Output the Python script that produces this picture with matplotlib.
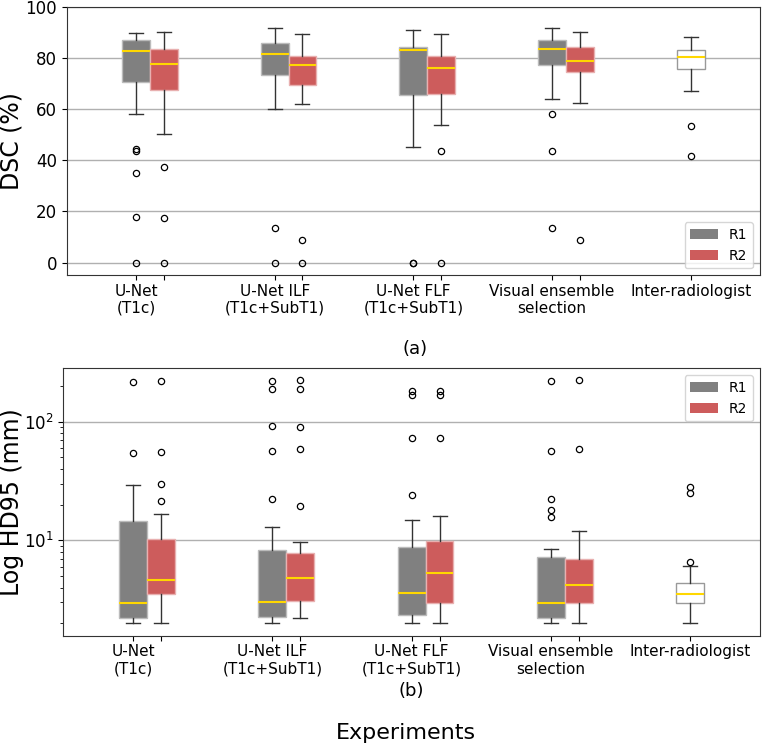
import matplotlib
matplotlib.use("Agg")
import matplotlib.pyplot as plt
from matplotlib.patches import Patch

# group labels (R1 box sits on the tick, R2 box just right of it)
methods = ["U-Net\n(T1c)", "U-Net ILF\n(T1c+SubT1)", "U-Net FLF\n(T1c+SubT1)",
           "Visual ensemble\nselection"]
inter_label = "Inter-radiologist"

# DSC (%) box stats: whislo, q1, med, q3, whishi
dsc_r1 = [[58.2, 70.6, 82.7, 87.2, 90.0],
          [60.2, 73.5, 81.6, 86.0, 91.8],
          [45.4, 65.6, 83.1, 84.5, 90.9],
          [64.1, 77.3, 83.5, 87.2, 91.8]]
dsc_r1_fliers = [[44.3, 43.5, 35.2, 18.0, 0.0],
                 [13.5, 0.0],
                 [0.0, 0.0],
                 [58.2, 43.5, 13.5]]
dsc_r2 = [[50.3, 67.5, 77.6, 83.7, 90.3],
          [62.1, 69.4, 77.3, 80.9, 89.6],
          [53.9, 65.9, 76.2, 80.9, 89.6],
          [62.5, 74.8, 79.1, 84.3, 90.3]]
dsc_r2_fliers = [[37.3, 17.5, 0.0],
                 [9.0, 0.0],
                 [43.5, 0.0],
                 [9.0]]
dsc_inter = [67.1, 75.8, 80.4, 83.3, 88.5]
dsc_inter_fliers = [53.5, 41.8]

# HD95 (mm) box stats
hd_r1 = [[2.0, 2.21, 2.98, 14.6, 29.4],
         [2.0, 2.25, 3.03, 8.24, 12.9],
         [2.0, 2.33, 3.61, 8.83, 14.9],
         [2.0, 2.20, 2.98, 7.22, 8.4]]
hd_r1_fliers = [[217, 54.1],
                [220, 187.5, 92.5, 56.6, 22.3],
                [182, 168, 73.3, 24.1],
                [222, 56.6, 22.4, 18.0, 15.8]]
hd_r2 = [[2.0, 3.55, 4.63, 10.2, 16.7],
         [2.21, 3.06, 4.81, 7.86, 9.73],
         [2.0, 2.94, 5.33, 9.81, 16.1],
         [2.0, 2.98, 4.18, 6.92, 12.1]]
hd_r2_fliers = [[220, 55.8, 30.0, 21.6],
                [223, 190, 90.2, 59.2, 19.6],
                [182, 168, 73.3],
                [225, 59.2]]
hd_inter = [2.0, 2.96, 3.51, 4.36, 6.04]
hd_inter_fliers = [28.0, 24.9, 6.56]

C_R1 = "#808080"
C_R2 = "#cd5c5c"
C_MED = "#ffd700"

pos_r1 = [1, 2, 3, 4]
pos_r2 = [1.2, 2.2, 3.2, 4.2]
pos_inter = 5


def stats(rows, fliers):
    out = []
    for (lo, q1, med, q3, hi), fl in zip(rows, fliers):
        out.append(dict(whislo=lo, q1=q1, med=med, q3=q3, whishi=hi,
                        fliers=fl))
    return out


def draw(ax, r1, r1f, r2, r2f, inter, interf):
    common = dict(widths=0.2, patch_artist=True, manage_ticks=False,
                  medianprops=dict(color=C_MED, linewidth=1.5),
                  whiskerprops=dict(color="#333333", linewidth=1),
                  capprops=dict(color="#333333", linewidth=1),
                  flierprops=dict(marker="o", markersize=4.5,
                                  markerfacecolor="none",
                                  markeredgecolor="black",
                                  markeredgewidth=0.9))
    ax.bxp(stats(r1, r1f), positions=pos_r1,
           boxprops=dict(facecolor=C_R1, edgecolor="#bbbbbb", linewidth=1),
           **common)
    ax.bxp(stats(r2, r2f), positions=pos_r2,
           boxprops=dict(facecolor=C_R2, edgecolor="#e8b0b0", linewidth=1),
           **common)
    ax.bxp(stats([inter], [interf]), positions=[pos_inter],
           boxprops=dict(facecolor="white", edgecolor="#999999",
                         linewidth=1),
           **common)
    ticks = sorted(pos_r1 + pos_r2 + [pos_inter])
    labels = []
    for t in ticks:
        if t in pos_r1:
            labels.append(methods[pos_r1.index(t)])
        elif t == pos_inter:
            labels.append(inter_label)
        else:
            labels.append("")
    ax.set_xticks(ticks)
    ax.set_xticklabels(labels, fontsize=11)
    ax.set_xlim(0.5, 5.5)
    ax.tick_params(axis="x", pad=2.5)
    ax.tick_params(axis="y", labelsize=12)
    ax.grid(axis="y", color="#b0b0b0", linewidth=1)
    ax.set_axisbelow(True)
    for s in ax.spines.values():
        s.set_color("#333333")
    ax.legend(handles=[Patch(facecolor=C_R1, label="R1"),
                       Patch(facecolor=C_R2, label="R2")],
              fontsize=10)


fig = plt.figure(figsize=(7.62, 7.48), dpi=100)

ax1 = fig.add_axes([0.0875, 0.6320, 0.9099, 0.3583])
draw(ax1, dsc_r1, dsc_r1_fliers, dsc_r2, dsc_r2_fliers, dsc_inter,
     dsc_inter_fliers)
ax1.set_ylim(-5, 100)
ax1.set_ylabel("DSC (%)", fontsize=17)
ax1.yaxis.set_label_coords(-0.062, 0.5)
ax1.get_legend().set_loc("lower right")

ax2 = fig.add_axes([0.0831, 0.1497, 0.9143, 0.3579])
ax2.set_yscale("log")
draw(ax2, hd_r1, hd_r1_fliers, hd_r2, hd_r2_fliers, hd_inter,
     hd_inter_fliers)
ax2.set_ylim(1.56, 282)
ax2.set_ylabel("Log HD95 (mm)", fontsize=17)
ax2.yaxis.set_label_coords(-0.057, 0.5)
ax2.get_legend().set_loc("upper right")

fig.text(415 / 762, 1 - 349 / 748, "(a)", ha="center", va="center",
         fontsize=13)
fig.text(411.7 / 762, 1 - 690.8 / 748, "(b)", ha="center", va="center",
         fontsize=13)
fig.text(406 / 762, 1 - 733 / 748, "Experiments", ha="center",
         va="center", fontsize=16)

fig.savefig("out.png", dpi=100)
